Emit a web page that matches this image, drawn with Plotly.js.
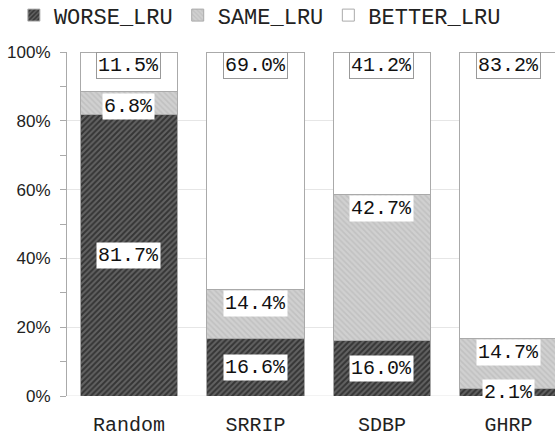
<!DOCTYPE html>
<html><head><meta charset="utf-8">
<script src="https://cdn.plot.ly/plotly-3.0.1.min.js"></script>
<style>html,body{margin:0;padding:0;background:#fff}#chart{width:555px;height:437px}</style>
</head><body><div id="chart"></div>
<script>
const categories = ['Random', 'SRRIP', 'SDBP', 'GHRP'];
const worseLRU = [81.7, 16.6, 16.0, 2.1];
const sameLRU = [6.8, 14.4, 42.7, 14.7];
const betterLRU = [11.5, 69.0, 41.2, 83.2];
const seriesNames = ['WORSE_LRU', 'SAME_LRU', 'BETTER_LRU'];

const MONO = '"Courier New", "Liberation Mono", monospace';
const SANS = '"Liberation Sans", Arial, sans-serif';
const outline = {color: '#aaaaaa', width: 1};

const traces = [
  {type: 'bar', name: seriesNames[0], x: categories, y: worseLRU, width: 0.77,
   marker: {color: '#555', line: outline, pattern: {shape: '/', bgcolor: '#626262', fgcolor: '#080808', size: 4, solidity: 0.5, fillmode: 'overlay'}}},
  {type: 'bar', name: seriesNames[1], x: categories, y: sameLRU, width: 0.77,
   marker: {color: '#c8c8c8', line: outline, pattern: {shape: '\\', bgcolor: '#d0d0d0', fgcolor: '#b2b2b2', size: 4, solidity: 0.4, fillmode: 'overlay'}}},
  {type: 'bar', name: seriesNames[2], x: categories, y: betterLRU, width: 0.77,
   marker: {color: '#ffffff', line: outline}}
];

const annotations = [];
categories.forEach((c, i) => {
  const w = worseLRU[i], s = sameLRU[i], b = betterLRU[i];
  const items = [
    {v: w, y: w / 2, border: 'rgba(0,0,0,0)'},
    {v: s, y: w + s - 4.2, border: 'rgba(0,0,0,0)'},
    {v: b, y: 100 - 4.0, border: '#999999'}
  ];
  items.forEach(it => annotations.push({
    x: c, y: it.y, xref: 'x', yref: 'y', text: it.v.toFixed(1) + '%', showarrow: false,
    font: {family: MONO, size: 20, color: '#111'}, bgcolor: '#ffffff',
    bordercolor: it.border, borderwidth: 1, borderpad: 1
  }));
});

const layout = {
  width: 555, height: 437,
  margin: {l: 67, r: 0, t: 52, b: 41},
  paper_bgcolor: '#ffffff', plot_bgcolor: '#ffffff',
  barmode: 'stack',
  showlegend: true,
  legend: {orientation: 'h', xref: 'container', x: 0.025, xanchor: 'left', y: 0.965, yanchor: 'middle', yref: 'container',
           font: {family: MONO, size: 22, color: '#222'}, traceorder: 'normal', itemwidth: 30},
  xaxis: {type: 'category', range: [-0.49, 3.368], showgrid: false, zeroline: false, showline: false,
          ticks: '', tickfont: {family: MONO, size: 20, color: '#222'}, ticklabelstandoff: 14, fixedrange: true},
  yaxis: {range: [0, 100], tickvals: [0, 20, 40, 60, 80, 100], ticktext: ['0%', '20%', '40%', '60%', '80%', '100%'],
          showgrid: true, gridcolor: '#e6e6e6', gridwidth: 1, zeroline: false,
          showline: true, linecolor: '#aaaaaa', linewidth: 1,
          ticks: 'outside', ticklen: 6, tickcolor: '#aaaaaa',
          minor: {tickvals: [10, 30, 50, 70, 90], ticks: 'outside', ticklen: 6, tickcolor: '#aaaaaa', showgrid: false},
          tickfont: {family: SANS, size: 17, color: '#222'}, ticklabelstandoff: 6},
  annotations: annotations,
  shapes: [{type: 'line', xref: 'paper', yref: 'y', x0: 0, x1: 1, y0: 0, y1: 0, line: {color: '#e6e6e6', width: 1}, layer: 'below'}]
};

Plotly.newPlot('chart', traces, layout, {displayModeBar: false, staticPlot: true});
</script></body></html>
